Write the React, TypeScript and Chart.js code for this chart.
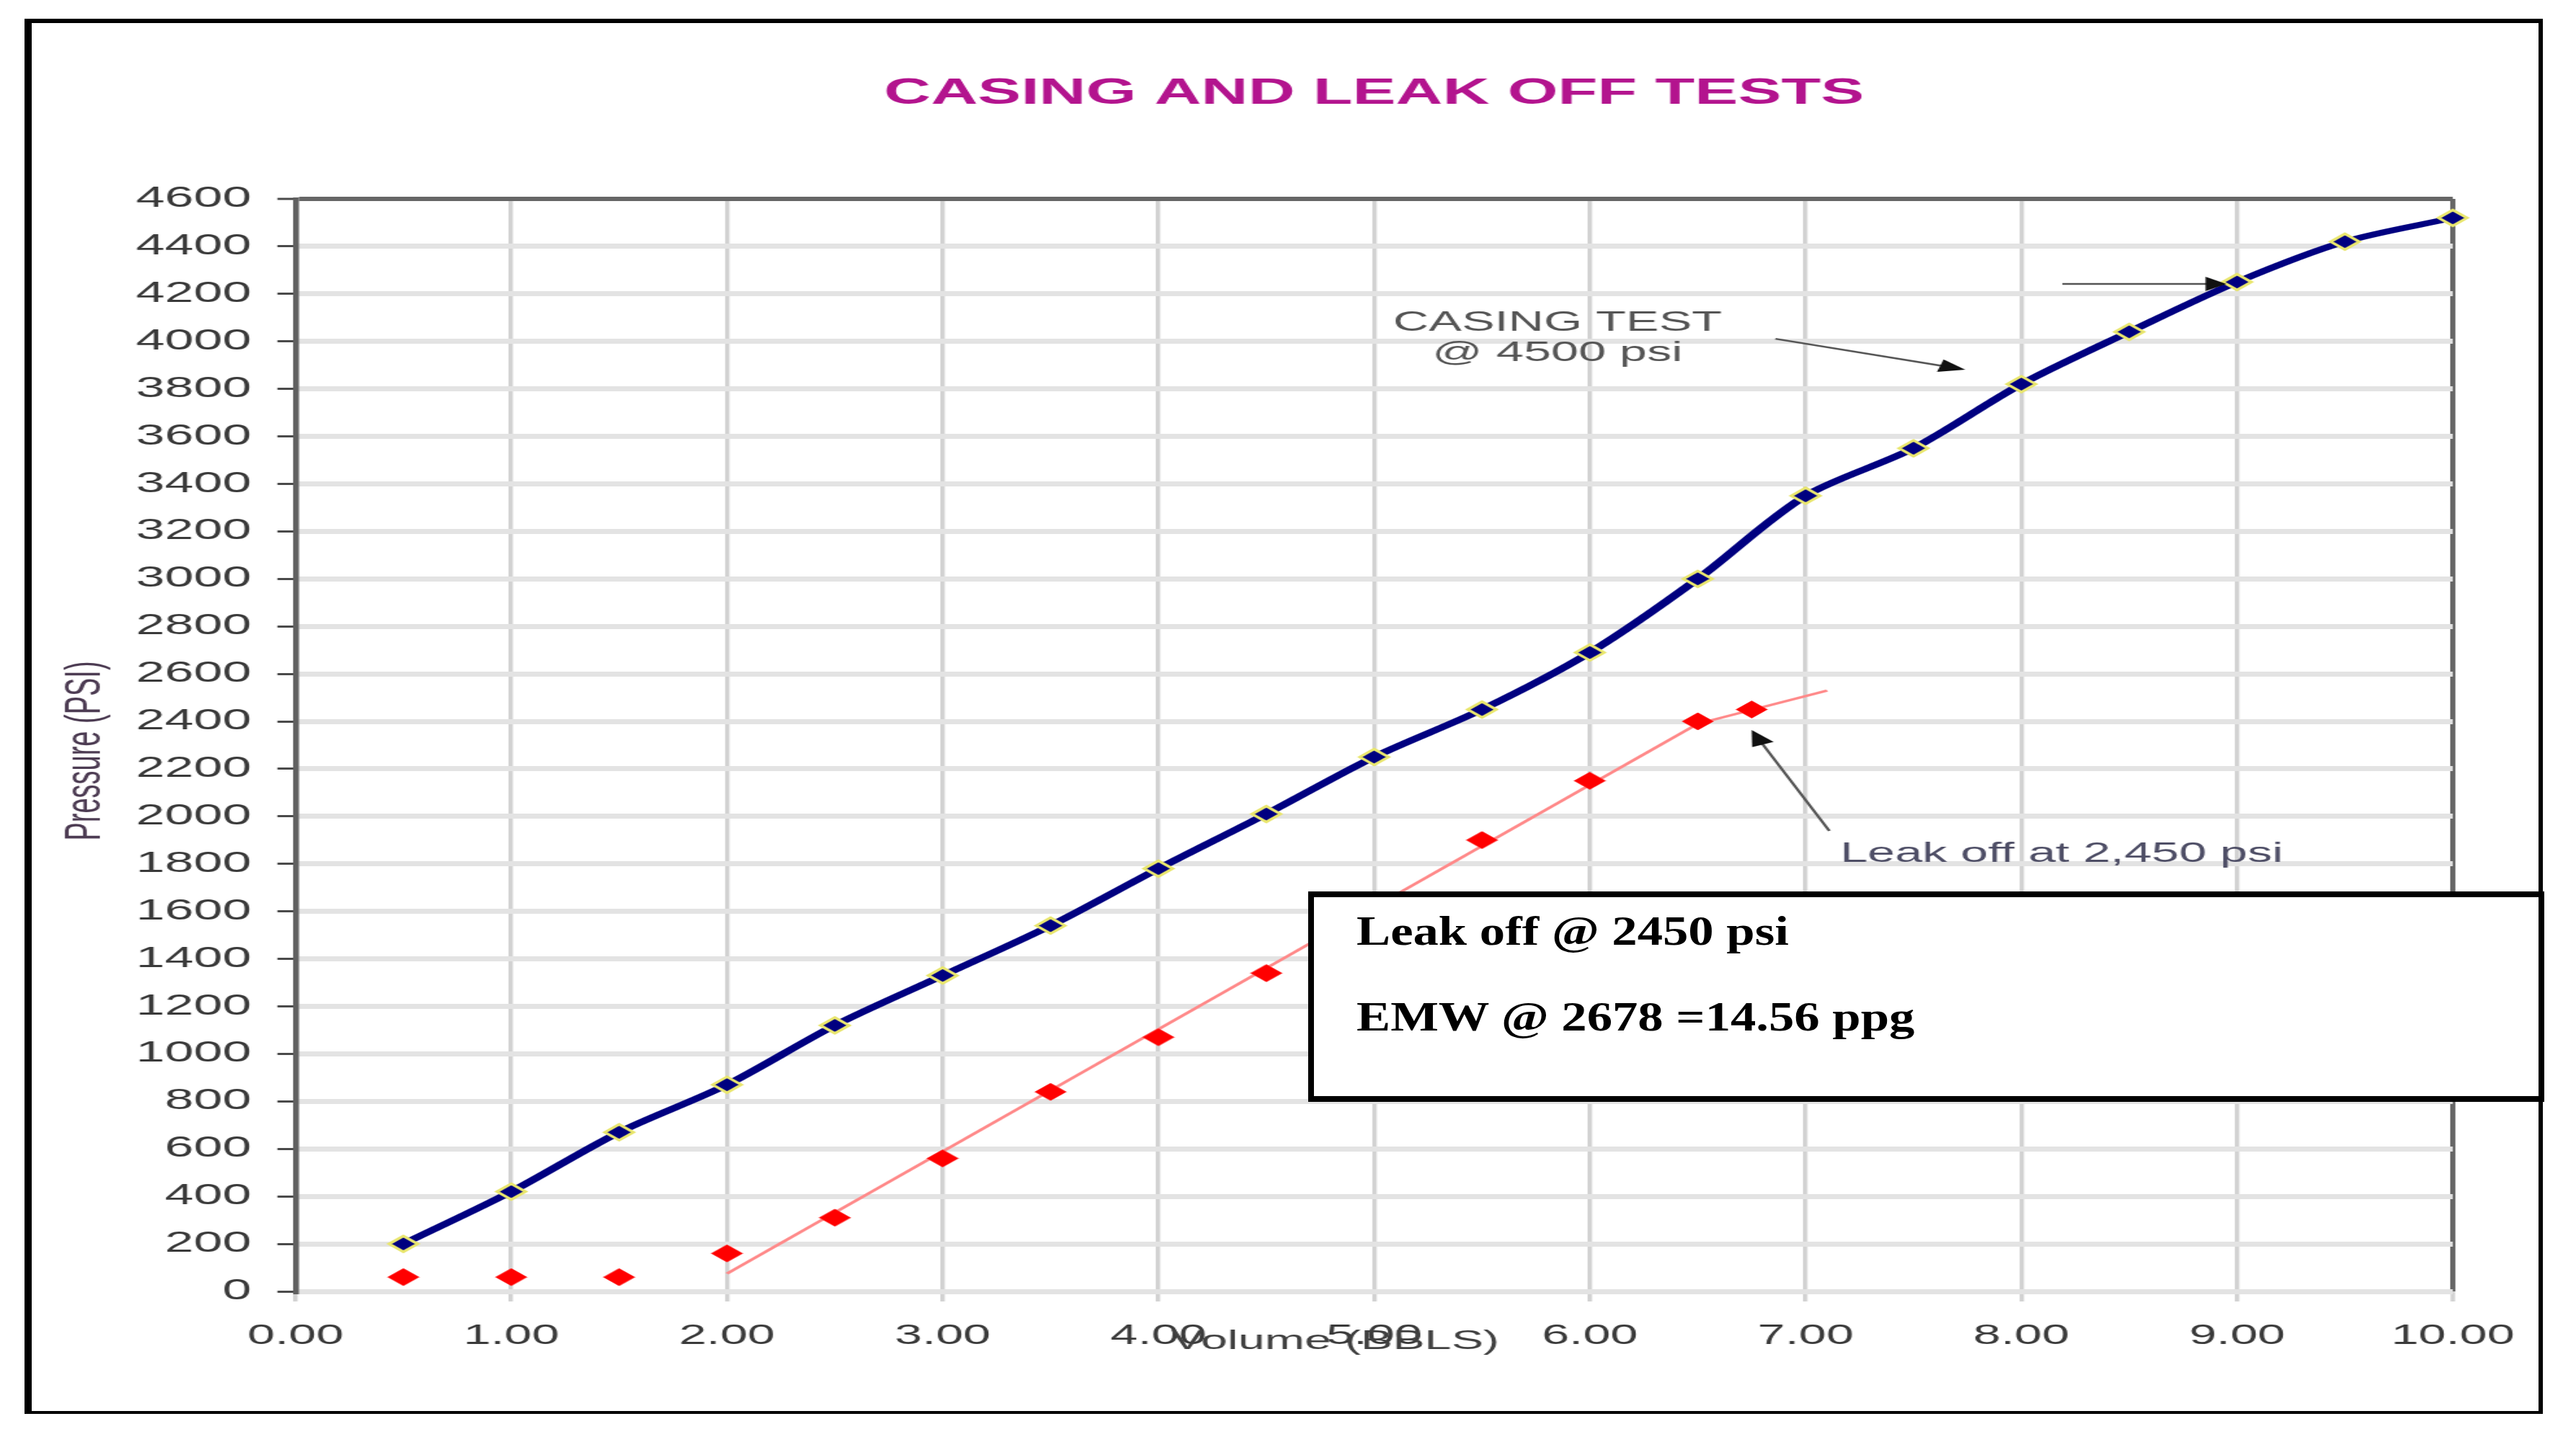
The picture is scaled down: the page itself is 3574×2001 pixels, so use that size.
import React, { useEffect, useRef } from "react";
import { Chart, registerables } from "chart.js";

Chart.register(...registerables);

// ---------------- data ----------------
const casingVolume = [0.5, 1.0, 1.5, 2.0, 2.5, 3.0, 3.5, 4.0, 4.5, 5.0, 5.5, 6.0, 6.5, 7.0, 7.5, 8.0, 8.5, 9.0, 9.5, 10.0];
const casingPressure = [200, 420, 670, 870, 1120, 1330, 1540, 1780, 2010, 2250, 2450, 2690, 3000, 3350, 3550, 3820, 4040, 4250, 4420, 4520];
const leakVolume = [0.5, 1.0, 1.5, 2.0, 2.5, 3.0, 3.5, 4.0, 4.5, 5.0, 5.5, 6.0, 6.5, 6.75];
const leakPressure = [60, 60, 60, 160, 310, 560, 840, 1070, 1340, 1620, 1900, 2150, 2400, 2450];
const trendVolume = [2.0, 6.5, 7.1];
const trendPressure = [75, 2390, 2530];
const volumeRange = [0, 10];
const pressureRange = [0, 4600];
const volumeStep = 1;
const pressureStep = 200;

const titleText = "CASING AND LEAK OFF TESTS";
const xAxisTitle = "Volume (BBLS)";
const yAxisTitle = "Pressure (PSI)";
const casingNote = ["CASING TEST", "@ 4500 psi"];
const leakNote = "Leak off at 2,450 psi";
const boxLines = ["Leak off @ 2450 psi", "EMW @ 2678 =14.56 ppg"];

// ---------------- layout ----------------
const PAGE_W = 3574;
const PAGE_H = 2001;
const CANVAS_W = 1986; // drawn narrow, displayed stretched horizontally like the reference
const SX = PAGE_W / CANVAS_W;
const PLOT_LEFT = 410 / SX;
const PLOT_RIGHT = 3403 / SX;
const PLOT_TOP = 276;
const PLOT_BOTTOM = 1792;
const SANS = '"Liberation Sans", Arial, sans-serif';

function drawArrow(ctx: CanvasRenderingContext2D, x1: number, y1: number, x2: number, y2: number, headLen: number, headW: number) {
  const a = Math.atan2(y2 - y1, x2 - x1);
  const c = Math.cos(a), s = Math.sin(a);
  ctx.beginPath();
  ctx.moveTo(x1, y1);
  ctx.lineTo(x2 - c * headLen * 0.7, y2 - s * headLen * 0.7);
  ctx.stroke();
  ctx.beginPath();
  ctx.moveTo(x2, y2);
  ctx.lineTo(x2 - headLen * c + headW * s, y2 - headLen * s - headW * c);
  ctx.lineTo(x2 - headLen * c - headW * s, y2 - headLen * s + headW * c);
  ctx.closePath();
  ctx.fill();
}

const notesPlugin = {
  id: "notes",
  afterDraw(chart: any) {
    const { ctx, chartArea } = chart;
    const xs = chart.scales.x;
    const ys = chart.scales.y;
    const px = (v: number) => xs.getPixelForValue(v);
    const py = (v: number) => ys.getPixelForValue(v);
    ctx.save();

    // title
    ctx.font = `bold 50px ${SANS}`;
    ctx.fillStyle = "#B3148E";
    ctx.textAlign = "center";
    ctx.textBaseline = "middle";
    ctx.fillText(titleText, (chartArea.left + chartArea.right) / 2, 130);

    // y axis title
    ctx.save();
    ctx.translate(120 / SX, 1042);
    ctx.rotate(-Math.PI / 2);
    ctx.font = `38px ${SANS}`;
    ctx.fillStyle = "#4c3b52";
    ctx.fillText(yAxisTitle, 0, 0);
    ctx.restore();

    // x axis title
    ctx.font = `37px ${SANS}`;
    ctx.fillStyle = "#404040";
    ctx.fillText(xAxisTitle, px(4.82), 1862);

    // casing note
    ctx.font = `38px ${SANS}`;
    ctx.fillStyle = "#555555";
    ctx.fillText(casingNote[0], px(5.85), py(4076));
    ctx.fillText(casingNote[1], px(5.85), py(3949));

    // leak note
    ctx.textAlign = "left";
    ctx.font = `38px ${SANS}`;
    ctx.fillStyle = "#4e4e66";
    ctx.fillText(leakNote, px(7.16), py(1840));

    // arrows
    ctx.strokeStyle = "#555555";
    ctx.fillStyle = "#111111";
    ctx.lineWidth = 2.4;
    drawArrow(ctx, px(6.86), py(4011), px(7.74), py(3881), 20, 9);
    drawArrow(ctx, px(8.19), py(4242), px(8.95), py(4242), 16, 10);
    drawArrow(ctx, px(7.11), py(1939), px(6.75), py(2364), 22, 9);

    ctx.restore();
  },
};

export default function App() {
  const ref = useRef<HTMLCanvasElement | null>(null);

  useEffect(() => {
    const canvas = ref.current;
    if (!canvas) return;
    const chart = new Chart(canvas, {
      type: "line",
      data: {
        datasets: [
          {
            label: "Casing test",
            data: casingVolume.map((v, i) => ({ x: v, y: casingPressure[i] })),
            borderColor: "#000080",
            borderWidth: 8,
            tension: 0.3,
            pointStyle: "rectRot",
            pointRadius: 11,
            pointBackgroundColor: "#000080",
            pointBorderColor: "#e9e66e",
            pointBorderWidth: 3,
            clip: false,
            order: 1,
          },
          {
            label: "Leak off test",
            data: leakVolume.map((v, i) => ({ x: v, y: leakPressure[i] })),
            showLine: false,
            pointStyle: "rectRot",
            pointRadius: 12,
            pointBackgroundColor: "#ff0000",
            pointBorderColor: "#ff3030",
            pointBorderWidth: 1,
            clip: false,
            order: 2,
          },
          {
            label: "Leak off trend",
            data: trendVolume.map((v, i) => ({ x: v, y: trendPressure[i] })),
            borderColor: "#ff8a8a",
            borderWidth: 3.2,
            pointRadius: 0,
            tension: 0,
            clip: false,
            order: 3,
          },
        ],
      },
      options: {
        animation: false,
        responsive: false,
        maintainAspectRatio: false,
        devicePixelRatio: 1,
        layout: {
          padding: { top: PLOT_TOP, right: CANVAS_W - PLOT_RIGHT, bottom: 0, left: 0 },
        },
        plugins: {
          legend: { display: false },
          tooltip: { enabled: false },
          title: { display: false },
        },
        scales: {
          x: {
            type: "linear",
            min: volumeRange[0],
            max: volumeRange[1],
            ticks: {
              stepSize: volumeStep,
              autoSkip: false,
              maxRotation: 0,
              padding: 26,
              color: "#3a3a3a",
              font: { family: SANS, size: 38 },
              callback: (v: any) => Number(v).toFixed(2),
            },
            grid: {
              color: (c: any) => (c.tick && c.tick.value === volumeRange[1] ? "#666666" : "#d2d2d2"),
              lineWidth: (c: any) => (c.tick && c.tick.value === volumeRange[1] ? 4 : 3.4),
              tickLength: 14,
              tickColor: "#d2d2d2",
              tickWidth: 3.4,
            },
            border: { display: false },
            afterFit: (s: any) => {
              s.height = PAGE_H - PLOT_BOTTOM;
            },
          },
          y: {
            type: "linear",
            min: pressureRange[0],
            max: pressureRange[1],
            ticks: {
              stepSize: pressureStep,
              autoSkip: false,
              padding: 20,
              color: "#3a3a3a",
              font: { family: SANS, size: 40 },
              callback: (v: any) => String(v),
            },
            grid: {
              color: (c: any) => (c.tick && c.tick.value === pressureRange[1] ? "#666666" : "#e3e3e3"),
              lineWidth: (c: any) => (c.tick && c.tick.value === pressureRange[1] ? 6 : 7),
              tickLength: 14,
              tickColor: "#4a4a4a",
              tickWidth: 3,
            },
            border: { display: true, color: "#606060", width: 4.5 },
            afterFit: (s: any) => {
              s.width = PLOT_LEFT;
            },
          },
        },
      },
      plugins: [notesPlugin],
    } as any);
    return () => chart.destroy();
  }, []);

  const boxFont: React.CSSProperties = {
    position: "absolute",
    left: 59,
    fontFamily: '"Liberation Serif", "Times New Roman", serif',
    fontWeight: "bold",
    fontSize: 57,
    lineHeight: "70px",
    whiteSpace: "nowrap",
    color: "#000",
    transform: "scaleX(1.24)",
    transformOrigin: "left center",
  };

  return (
    <div style={{ position: "fixed", left: 0, top: 0, width: PAGE_W, height: PAGE_H, background: "#fff", overflow: "hidden" }}>
      <canvas
        ref={ref}
        width={CANVAS_W}
        height={PAGE_H}
        style={{ position: "absolute", left: 0, top: 0, width: `${PAGE_W}px`, height: `${PAGE_H}px` }}
      />
      <div
        style={{
          position: "absolute",
          left: 34,
          top: 26,
          width: 3494,
          height: 1936,
          boxSizing: "border-box",
          borderStyle: "solid",
          borderColor: "#000",
          borderWidth: "6px 6px 4px 10px",
          pointerEvents: "none",
        }}
      />
      <div
        style={{
          position: "absolute",
          left: 1815,
          top: 1237,
          width: 1715,
          height: 292,
          boxSizing: "border-box",
          border: "8px solid #000",
          background: "#fff",
        }}
      >
        <div style={{ ...boxFont, top: 12 }}>{boxLines[0]}</div>
        <div style={{ ...boxFont, top: 131 }}>{boxLines[1]}</div>
      </div>
    </div>
  );
}
